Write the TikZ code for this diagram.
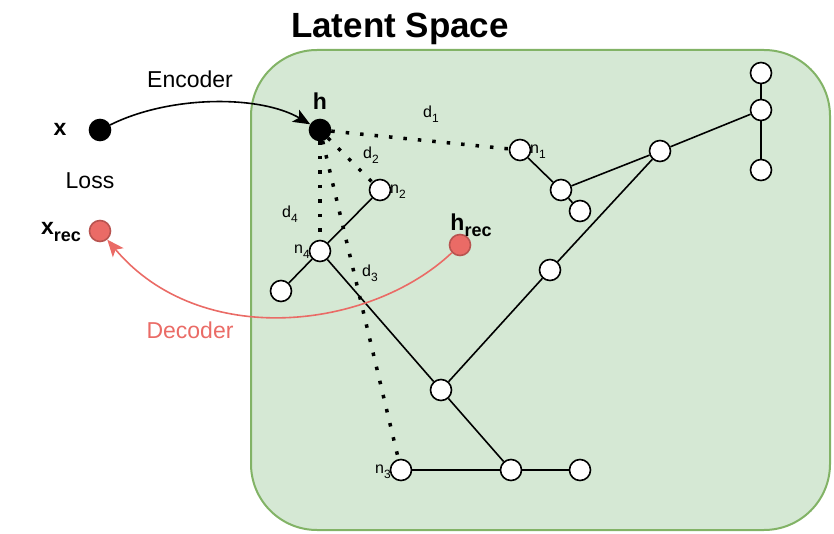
\documentclass[tikz,border=0pt]{standalone}
\usepackage{fontspec}
\setmainfont{Liberation Sans}
\usetikzlibrary{arrows.meta}
\definecolor{boxfill}{HTML}{D5E8D4}
\definecolor{boxline}{HTML}{82B366}
\definecolor{redfill}{HTML}{EA6B66}
\definecolor{redline}{HTML}{B85450}
\newcommand\fsz[1]{\fontsize{#1}{#1}\selectfont}
\newcommand\lsub[2]{#1\raisebox{-0.6ex}{\fsz{12}#2}}
\begin{document}
\begin{tikzpicture}[x=1pt,y=-1pt,
  wnode/.style={circle,draw=black,fill=white,line width=1.6pt,minimum size=21pt,inner sep=0pt},
  bnode/.style={circle,draw=black,fill=black,line width=1.6pt,minimum size=21pt,inner sep=0pt},
  rnode/.style={circle,draw=redline,fill=redfill,line width=1.6pt,minimum size=21pt,inner sep=0pt},
  edge/.style={line width=1.6pt,black},
  dist/.style={line width=3.5pt,black,dash pattern=on 3.5pt off 11pt},
  lbl/.style={inner sep=0pt,font=\fsz{23}},
  small/.style={inner sep=0pt,font=\fsz{16}},
  >={Stealth[length=17pt,width=14pt,inset=4pt]}]
\useasboundingbox (0,0) rectangle (834,534);
% latent space box
\draw[fill=boxfill,draw=boxline,line width=2pt,rounded corners=66pt] (251,50) rectangle (830,530);
\node[inner sep=0pt,font=\fsz{35}\bfseries] (title) at (400,29) {Latent Space};
% graph nodes
\node[wnode] (n1) at (520,150) {};
\node[wnode] (a1) at (561,190) {};
\node[wnode] (a2) at (580,211) {};
\node[wnode] (a3) at (660,151) {};
\node[wnode] (b1) at (761,73) {};
\node[wnode] (b2) at (761,110) {};
\node[wnode] (b3) at (761,170) {};
\node[wnode] (n2) at (380,190) {};
\node[wnode] (n4) at (320,251) {};
\node[wnode] (c1) at (281,291) {};
\node[wnode] (c2) at (550,270) {};
\node[wnode] (c3) at (441,390) {};
\node[wnode] (n3) at (401,470) {};
\node[wnode] (e1) at (511,470) {};
\node[wnode] (e2) at (580,470) {};
% edges
\draw[edge] (n1) -- (a1);
\draw[edge] (a1) -- (a2);
\draw[edge] (a1) -- (a3);
\draw[edge] (a3) -- (b2);
\draw[edge] (b1) -- (b2);
\draw[edge] (b2) -- (b3);
\draw[edge] (a3) -- (c2);
\draw[edge] (c2) -- (c3);
\draw[edge] (n2) -- (n4);
\draw[edge] (n4) -- (c1);
\draw[edge] (n4) -- (c3);
\draw[edge] (c3) -- (e1);
\draw[edge] (n3) -- (e1);
\draw[edge] (e1) -- (e2);
% outer nodes
\node[bnode] (h) at (320,130) {};
\node[bnode] (x) at (100,130) {};
\node[rnode] (xr) at (100,231) {};
\node[rnode] (hr) at (460,245) {};
% distances
\draw[dist] (h) -- (n1);
\draw[dist] (h) -- (n2);
\draw[dist] (h) -- (n4);
\draw[dist] (h) -- (n3);
% labels
\node[lbl,font=\fsz{23}\bfseries] (hl) at (320,101) {h};
\node[lbl,font=\fsz{23}\bfseries] (xl) at (60,129) {x};
\node[lbl,font=\fsz{23}\bfseries] (xrl) at (61,232) {x\raisebox{-0.5ex}{\fsz{18}rec}};
\node[lbl,font=\fsz{23}\bfseries] (hrl) at (471,225) {h\raisebox{-0.5ex}{\fsz{18}rec}};
\node[lbl] (loss) at (90,181) {Loss};
\node[lbl] (enc) at (190,79) {Encoder};
\node[lbl,text=redfill] (dec) at (190,330) {Decoder};
\node[small] (d1) at (431,114) {\lsub{d}{1}};
\node[small] (d2) at (371,155) {\lsub{d}{2}};
\node[small] (d3) at (370,273) {\lsub{d}{3}};
\node[small] (d4) at (290,214) {\lsub{d}{4}};
\node[small,anchor=west] (n1l) at (530,152) {\lsub{n}{1}};
\node[small,anchor=west] (n2l) at (390,192) {\lsub{n}{2}};
\node[small,anchor=east] (n4l) at (310,252) {\lsub{n}{4}};
\node[small,anchor=east] (n3l) at (391,472) {\lsub{n}{3}};
% encoder / decoder arrows
\draw[line width=1.6pt,black,->] (x) .. controls (170,95) and (260,95) .. (h);
\draw[line width=1.6pt,redfill,->] (hr) .. controls (370,330) and (200,350) .. (xr);
\end{tikzpicture}
\end{document}
